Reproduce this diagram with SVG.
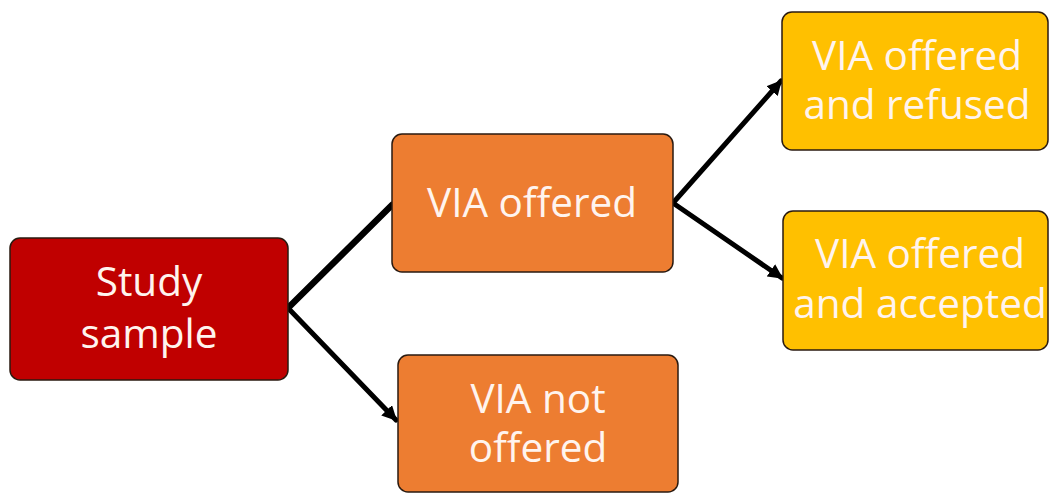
<svg xmlns="http://www.w3.org/2000/svg" width="1050" height="493" viewBox="0 0 1050 493">
<style>
.box{stroke:#2a1a10;stroke-width:1.5}
.t{font-family:"Open Sans","Noto Sans",sans-serif;font-size:40.5px;fill:#fff4ee;text-anchor:middle}
.c{stroke:#000;fill:none;stroke-linecap:round}
</style>
<defs>
<marker id="ah" viewBox="0 0 10 10" refX="9" refY="5" markerWidth="3" markerHeight="3" orient="auto" markerUnits="strokeWidth">
<path d="M0,0 L10,5 L0,10 z" fill="#000"/>
</marker>
</defs>
<rect width="1050" height="493" fill="#fff"/>
<g id="connectors">
<line class="c" x1="288" y1="308" x2="392" y2="205" stroke-width="6.5"/>
<line class="c" x1="288" y1="308" x2="396" y2="420" stroke-width="5" marker-end="url(#ah)"/>
<line class="c" x1="673" y1="203" x2="781" y2="81" stroke-width="5" marker-end="url(#ah)"/>
<line class="c" x1="673" y1="203" x2="782" y2="278" stroke-width="5" marker-end="url(#ah)"/>
</g>
<g id="study">
<rect class="box" x="10" y="238" width="278" height="142" rx="10" fill="#C00000"/>
<text class="t" x="149" y="296">Study</text>
<text class="t" x="149" y="348">sample</text>
</g>
<g id="offered">
<rect class="box" x="392" y="134" width="281" height="138" rx="10" fill="#ED7D31"/>
<text class="t" x="532" y="217">VIA offered</text>
</g>
<g id="refused">
<rect class="box" x="782" y="12" width="266" height="138" rx="10" fill="#FFC000"/>
<text class="t" x="917" y="70">VIA offered</text>
<text class="t" x="917" y="119">and refused</text>
</g>
<g id="accepted">
<rect class="box" x="783" y="211" width="265" height="139" rx="10" fill="#FFC000"/>
<text class="t" x="920" y="268">VIA offered</text>
<text class="t" x="920" y="318">and accepted</text>
</g>
<g id="notoffered">
<rect class="box" x="398" y="355" width="280" height="137" rx="10" fill="#ED7D31"/>
<text class="t" x="538" y="413">VIA not</text>
<text class="t" x="538" y="462">offered</text>
</g>
</svg>
